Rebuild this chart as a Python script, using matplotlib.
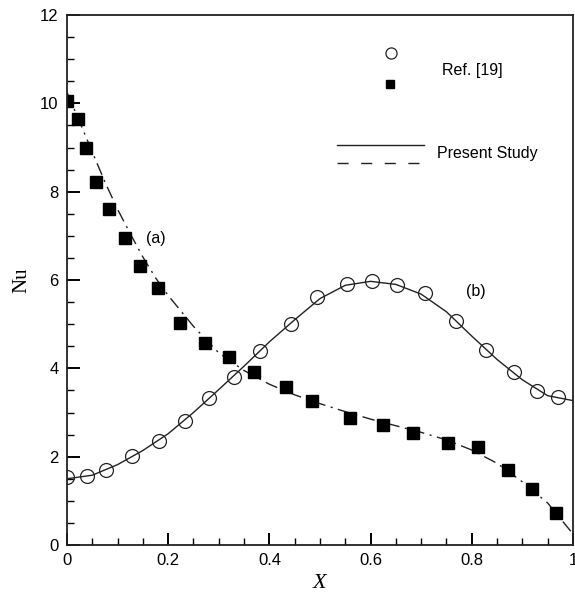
import matplotlib.pyplot as plt
from matplotlib.ticker import MultipleLocator, FuncFormatter

# Ref. [19] data points
xa = [0.0, 0.022, 0.037, 0.057, 0.083, 0.115, 0.144, 0.18, 0.223, 0.273, 0.32,
      0.37, 0.433, 0.484, 0.559, 0.625, 0.684, 0.753, 0.812, 0.872, 0.919, 0.966]
nua = [10.05, 9.64, 8.99, 8.22, 7.6, 6.95, 6.32, 5.82, 5.03, 4.57, 4.26,
       3.92, 3.58, 3.26, 2.88, 2.72, 2.54, 2.31, 2.22, 1.70, 1.27, 0.72]

xb = [0.0, 0.039, 0.077, 0.128, 0.182, 0.233, 0.281, 0.33, 0.381, 0.443, 0.494,
      0.553, 0.603, 0.652, 0.707, 0.769, 0.828, 0.883, 0.929, 0.97]
nub = [1.54, 1.56, 1.70, 2.01, 2.36, 2.81, 3.33, 3.80, 4.39, 5.0, 5.61,
       5.91, 5.97, 5.89, 5.71, 5.07, 4.41, 3.92, 3.49, 3.35]

# Present study curves
xs_a = [0.0, 0.025, 0.05, 0.075, 0.1, 0.125, 0.15, 0.175, 0.2, 0.225, 0.25, 0.3,
        0.35, 0.4, 0.45, 0.5, 0.55, 0.6, 0.65, 0.7, 0.75, 0.8, 0.85, 0.9, 0.95, 1.0]
line_a = [10.25, 9.58, 8.9, 8.22, 7.6, 7.05, 6.52, 6.05, 5.65, 5.3, 4.95, 4.35,
          3.95, 3.64, 3.4, 3.2, 3.02, 2.85, 2.7, 2.55, 2.38, 2.15, 1.85, 1.43, 0.95, 0.25]

xs_b = [0.0, 0.05, 0.1, 0.15, 0.2, 0.25, 0.3, 0.35, 0.4, 0.45, 0.5, 0.55, 0.6,
        0.65, 0.7, 0.75, 0.8, 0.85, 0.9, 0.95, 1.0]
line_b = [1.50, 1.58, 1.82, 2.14, 2.52, 3.0, 3.52, 4.05, 4.6, 5.1, 5.58, 5.88, 5.97,
          5.9, 5.68, 5.28, 4.73, 4.2, 3.74, 3.38, 3.27]

plt.rcParams['font.family'] = 'Liberation Sans'

fig = plt.figure(figsize=(5.75, 5.94), dpi=100)
ax = fig.add_axes([0.1165, 0.0825, 0.88, 0.8922])

ax.plot(xs_a, line_a, color='#222222', lw=1.0, dashes=(9, 4, 1.5, 4))
ax.plot(xs_b, line_b, color='#222222', lw=1.0)
ax.plot(xa, nua, 's', color='black', ms=8, mec='black')
ax.plot(xb, nub, 'o', mfc='none', mec='#222222', ms=10, mew=0.9)

ax.text(0.156, 6.93, '(a)', fontsize=11.5, va='center')
ax.text(0.789, 5.75, '(b)', fontsize=11.5, va='center')

# legend drawn by hand
ax.plot([0.640], [0.928], 'o', mfc='none', mec='#222222', ms=8, mew=0.9,
        transform=ax.transAxes)
ax.plot([0.638], [0.870], 's', color='black', ms=6, transform=ax.transAxes)
ax.text(0.741, 0.896, 'Ref. [19]', fontsize=11.5, va='center', transform=ax.transAxes)
ax.plot([0.534, 0.706], [0.755, 0.755], color='#222222', lw=1.0, transform=ax.transAxes)
ax.plot([0.534, 0.706], [0.721, 0.721], color='#222222', lw=1.0, dashes=(8, 9),
        transform=ax.transAxes)
ax.text(0.731, 0.738, 'Present Study', fontsize=11.5, va='center', transform=ax.transAxes)

ax.set_xlim(0, 1)
ax.set_ylim(0, 12)
ax.xaxis.set_major_locator(MultipleLocator(0.2))
ax.xaxis.set_minor_locator(MultipleLocator(0.05))
ax.yaxis.set_major_locator(MultipleLocator(2))
ax.yaxis.set_minor_locator(MultipleLocator(0.5))
ax.xaxis.set_major_formatter(FuncFormatter(lambda v, p: '%g' % round(v, 2)))
ax.tick_params(which='major', direction='in', length=9, width=1.4, labelsize=12,
               top=False, right=False, pad=6)
ax.tick_params(which='minor', direction='in', length=5, width=1.0,
               top=False, right=False)
for s in ax.spines.values():
    s.set_linewidth(1.3)
    s.set_color('#222222')

ax.set_ylabel('Nu', family='Liberation Serif', fontsize=15, labelpad=6)
ax.set_xlabel('X', family='Liberation Serif', style='italic', fontsize=16, labelpad=4)

fig.savefig('out.png', dpi=100)
